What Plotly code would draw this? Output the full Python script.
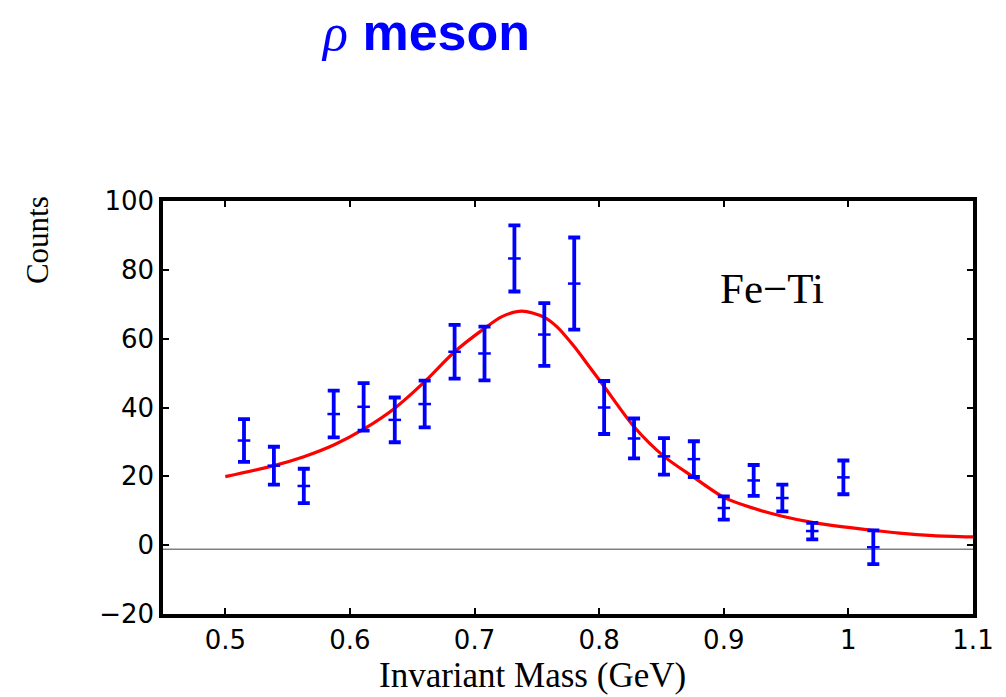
import plotly.graph_objects as go

# Measured rho-meson candidates (Fe-Ti), invariant mass bins
mass = [0.515, 0.539, 0.563, 0.587, 0.611, 0.636, 0.660, 0.684, 0.708, 0.732, 0.756,
        0.780, 0.804, 0.828, 0.852, 0.876, 0.900, 0.924, 0.947, 0.971, 0.996, 1.020]
counts = [30.4, 23.1, 17.2, 38.1, 40.2, 36.4, 41.0, 56.2, 55.7, 83.3, 61.2,
          76.0, 40.0, 31.0, 25.8, 25.0, 10.8, 18.8, 13.7, 4.1, 19.7, -0.6]
errors = [6.2, 5.5, 5.0, 6.8, 6.9, 6.5, 6.8, 7.8, 7.8, 9.6, 9.1,
          13.4, 7.7, 5.8, 5.3, 5.2, 3.4, 4.5, 3.9, 2.4, 4.9, 4.9]

# Fitted resonance + background curve
fit_mass = [0.500, 0.539, 0.563, 0.587, 0.611, 0.636, 0.660, 0.684, 0.708, 0.722, 0.738,
            0.756, 0.766, 0.780, 0.792, 0.804, 0.828, 0.852, 0.876, 0.900, 0.924,
            0.947, 0.971, 0.996, 1.020, 1.041, 1.068, 1.100]
fit_counts = [19.9, 23.1, 25.7, 29.1, 33.7, 39.8, 47.5, 56.2, 63.0, 66.4, 68.0,
              66.2, 63.5, 57.7, 51.9, 46.1, 34.4, 25.8, 19.7, 13.9, 10.7,
              8.4, 6.6, 5.3, 4.3, 3.5, 2.8, 2.4]

baseline = -1.2
x_range = [0.45, 1.1]
y_range = [-20, 100]
x_ticks = [0.5, 0.6, 0.7, 0.8, 0.9, 1.0, 1.1]
x_tick_text = ["0.5", "0.6", "0.7", "0.8", "0.9", "1", "1.1"]
y_ticks = [-20, 0, 20, 40, 60, 80, 100]

BLUE = "#0000ff"
SERIF = "Liberation Serif, Times New Roman, serif"
SANS = "Liberation Sans, Arial, sans-serif"
WIDE_SANS = "DejaVu Sans, Verdana, sans-serif"

fig = go.Figure()

fig.add_trace(go.Scatter(
    x=fit_mass, y=fit_counts, mode="lines",
    line=dict(color="#ff0000", width=3.2, shape="spline", smoothing=0.8),
    hoverinfo="skip", showlegend=False,
))

fig.add_trace(go.Scatter(
    x=mass, y=counts, mode="markers",
    marker=dict(symbol="line-ew", size=9, line=dict(color=BLUE, width=2.5), color=BLUE),
    error_y=dict(type="data", array=errors, visible=True, color=BLUE,
                 thickness=3.8, width=6),
    showlegend=False,
))

fig.add_shape(type="line", xref="paper", x0=0, x1=1, yref="y", y0=baseline, y1=baseline,
              line=dict(color="#808080", width=1.5), layer="below")

axis_common = dict(
    showline=True, linecolor="black", linewidth=3.5, mirror="ticks",
    ticks="inside", ticklen=6, tickwidth=2, tickcolor="black",
    showgrid=False, zeroline=False,
    tickfont=dict(family=WIDE_SANS, size=26, color="black"),
)

fig.update_xaxes(range=x_range, tickvals=x_ticks, ticktext=x_tick_text, **axis_common)
fig.update_yaxes(range=y_range, tickvals=y_ticks, **axis_common)

title_text = ('<span style="font-family:Liberation Serif, Times New Roman, serif">'
              '<i>ρ</i></span> <b>meson</b>')

fig.update_layout(
    width=1006, height=697,
    margin=dict(l=163, r=26, t=201, b=83),
    paper_bgcolor="white", plot_bgcolor="white",
    annotations=[
        dict(text=title_text, xref="paper", yref="paper",
             x=(428 - 163) / 817, y=1 + (201 - 32) / 413, xanchor="center", yanchor="middle",
             showarrow=False, font=dict(family=SANS, size=52, color=BLUE)),
        dict(text="Fe−Ti", xref="x", yref="y", x=0.939, y=74.7,
             xanchor="center", yanchor="middle", showarrow=False,
             font=dict(family=SERIF, size=43, color="black")),
        dict(text="Invariant Mass (GeV)", xref="paper", yref="paper",
             x=(536 - 163) / 817, y=-(697 - 614) / 413, xanchor="center", yanchor="bottom",
             showarrow=False, font=dict(family=SERIF, size=35, color="black")),
        dict(text="Counts", xref="paper", yref="paper",
             x=-(163 - 36) / 817, y=(614 - 240) / 413, xanchor="center", yanchor="middle",
             textangle=-90, showarrow=False,
             font=dict(family=SERIF, size=31, color="black")),
    ],
)

fig.write_html("out.html")
